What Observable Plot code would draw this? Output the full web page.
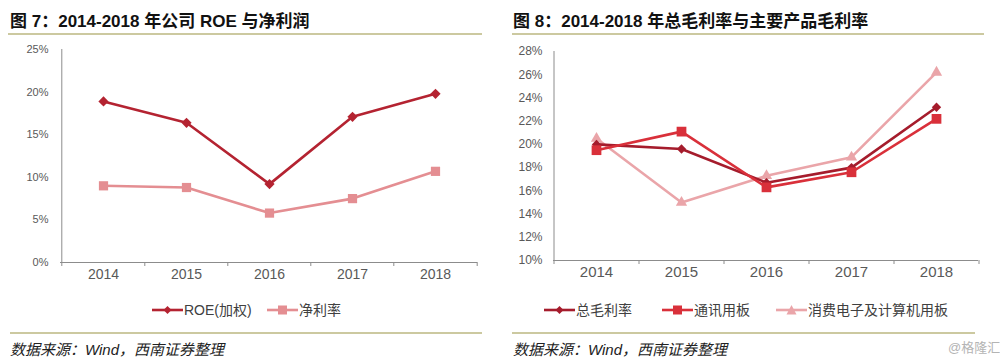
<!DOCTYPE html>
<html><head><meta charset="utf-8">
<script src="https://cdn.jsdelivr.net/npm/d3@7"></script>
<script src="https://cdn.jsdelivr.net/npm/@observablehq/plot@0.6"></script>
<style>
html,body{margin:0;padding:0;background:#fff;}
#root{position:relative;width:1000px;height:359px;overflow:hidden;font-family:"Liberation Sans","Noto Sans CJK SC",sans-serif;}
.title{position:absolute;top:12px;font-size:17px;font-weight:bold;color:#111;line-height:20px;white-space:nowrap;}
.sep{position:absolute;height:2px;background:#ccc9a0;}
.caption{position:absolute;top:341px;font-size:15px;font-style:italic;color:#222;line-height:18px;white-space:nowrap;}
.chart{position:absolute;top:40px;}
.li{position:absolute;top:300px;display:flex;align-items:center;font-size:14px;color:#404040;white-space:nowrap;line-height:20px;}
.li svg{display:block;margin-right:1px;}
.wm{position:absolute;left:948px;top:340px;font-size:13px;color:#b4b4b4;line-height:16px;white-space:nowrap;}
</style></head>
<body><div id="root"></div>
<script>
// ---- data ----
const years = ["2014", "2015", "2016", "2017", "2018"];
const roe = [18.9, 16.4, 9.2, 17.1, 19.8];
const netMargin = [9.0, 8.8, 5.8, 7.5, 10.7];
const grossTotal = [20.0, 19.6, 16.7, 18.0, 23.2];
const grossComm = [19.5, 21.1, 16.3, 17.6, 22.2];
const grossConsumer = [20.5, 15.0, 17.3, 18.9, 26.2];
const leftTicks = [0, 5, 10, 15, 20, 25];
const rightTicks = [10, 12, 14, 16, 18, 20, 22, 24, 26, 28];
const leftNames = ["ROE(加权)", "净利率"];
const rightNames = ["总毛利率", "通讯用板", "消费电子及计算机用板"];
const titles = ["图 7：2014-2018 年公司 ROE 与净利润", "图 8：2014-2018 年总毛利率与主要产品毛利率"];
const captionText = "数据来源：Wind，西南证券整理";

const root = document.getElementById("root");
const axisColor = "#8c8c8c";

function chart(cfg) {
  const {width, height, marginLeft, marginRight, marginTop, marginBottom, yTicks, series, xFont, yFont, yPad, xPad} = cfg;
  const step = (width - marginLeft - marginRight) / years.length;
  const y0 = yTicks[0];
  const marks = [
    Plot.ruleX([years[0]], {dx: -step / 2, stroke: axisColor, strokeWidth: 1}),
    Plot.ruleY([y0], {stroke: axisColor, strokeWidth: 1}),
    Plot.ruleX(years, {x: d => d, y1: y0, y2: y0, dx: -step / 2, insetBottom: -4, stroke: axisColor}),
    Plot.ruleX([years[years.length - 1]], {x: d => d, y1: y0, y2: y0, dx: step / 2, insetBottom: -4, stroke: axisColor}),
    Plot.ruleY(yTicks, {y: d => d, x1: years[0], x2: years[0], dx: -step / 2, insetLeft: -4, stroke: axisColor}),
    Plot.axisY({ticks: yTicks, tickSize: 0, tickPadding: yPad, tickFormat: d => d + "%", fontSize: yFont, label: null}),
    Plot.axisX({tickSize: 0, tickPadding: xPad, fontSize: xFont, label: null})
  ];
  for (const s of series) {
    const data = years.map((yr, i) => ({year: yr, value: s.values[i]}));
    marks.push(Plot.line(data, {x: "year", y: "value", stroke: s.color, strokeWidth: 2.6}));
    marks.push(Plot.dot(data, {x: "year", y: "value", symbol: s.symbol, r: s.r, fill: s.color}));
  }
  return Plot.plot({
    width, height, marginLeft, marginRight, marginTop, marginBottom,
    x: {type: "point", domain: years, padding: 0.5},
    y: {domain: [yTicks[0], yTicks[yTicks.length - 1]]},
    style: {background: "transparent", color: "#595959", fontFamily: "Liberation Sans, Noto Sans CJK SC, sans-serif", overflow: "visible"},
    marks
  });
}

function add(el, cls, left, extra) {
  el.className = cls;
  el.style.left = left + "px";
  if (extra) Object.assign(el.style, extra);
  root.appendChild(el);
  return el;
}
function div(cls, left, text, extra) {
  const d = document.createElement("div");
  if (text != null) d.textContent = text;
  return add(d, cls, left, extra);
}
function markerSvg(color, symbol) {
  const ns = "http://www.w3.org/2000/svg";
  const svg = document.createElementNS(ns, "svg");
  svg.setAttribute("width", 31); svg.setAttribute("height", 12);
  const line = document.createElementNS(ns, "line");
  line.setAttribute("x1", 0); line.setAttribute("x2", 31); line.setAttribute("y1", 6); line.setAttribute("y2", 6);
  line.setAttribute("stroke", color); line.setAttribute("stroke-width", 2.6);
  svg.appendChild(line);
  let m;
  if (symbol === "square") {
    m = document.createElementNS(ns, "rect");
    m.setAttribute("x", 11); m.setAttribute("y", 1.5); m.setAttribute("width", 9); m.setAttribute("height", 9);
  } else {
    m = document.createElementNS(ns, "polygon");
    m.setAttribute("points", symbol === "triangle" ? "15.5,1 20.5,10.5 10.5,10.5" : "15.5,2 19.5,6 15.5,10 11.5,6");
  }
  m.setAttribute("fill", color);
  svg.appendChild(m);
  return svg;
}
function legendItem(left, color, symbol, name) {
  const d = div("li", left, null);
  d.appendChild(markerSvg(color, symbol));
  const t = document.createElement("span"); t.textContent = name; d.appendChild(t);
}

// ---- left panel ----
div("title", 10, titles[0]);
div("sep", 8, null, {top: "33px", width: "474px"});
const leftSeries = [
  {values: netMargin, color: "#e48e92", symbol: "square", r: 5.2},
  {values: roe, color: "#b42331", symbol: "diamond2", r: 4.6}
];
const c1 = chart({width: 490, height: 250, marginLeft: 60, marginRight: 13, marginTop: 9, marginBottom: 28,
  yTicks: leftTicks, series: leftSeries, xFont: 14, yFont: 11, yPad: 12, xPad: 7});
c1.classList.add("chart"); c1.style.position = "absolute"; c1.style.left = "0px"; c1.style.top = "40px";
root.appendChild(c1);
legendItem(152, "#b42331", "diamond", leftNames[0]);
legendItem(267, "#e48e92", "square", leftNames[1]);
div("sep", 10, null, {top: "332px", width: "472px"});
div("caption", 10, captionText);

// ---- right panel ----
div("title", 513, titles[1]);
div("sep", 512, null, {top: "33px", width: "472px"});
const rightSeries = [
  {values: grossConsumer, color: "#eaa5a9", symbol: "triangle", r: 4.2},
  {values: grossTotal, color: "#a51c2c", symbol: "diamond2", r: 4.2},
  {values: grossComm, color: "#d9303a", symbol: "square", r: 5.5}
];
const c2 = chart({width: 500, height: 250, marginLeft: 53, marginRight: 22, marginTop: 11, marginBottom: 30,
  yTicks: rightTicks, series: rightSeries, xFont: 15, yFont: 12, yPad: 11, xPad: 6});
c2.style.position = "absolute"; c2.style.left = "500px"; c2.style.top = "40px";
root.appendChild(c2);
legendItem(544, "#a51c2c", "diamond", rightNames[0]);
legendItem(662, "#d9303a", "square", rightNames[1]);
legendItem(776, "#eaa5a9", "triangle", rightNames[2]);
div("sep", 512, null, {top: "332px", width: "463px"});
div("caption", 513, captionText);
div("wm", 948, "@格隆汇");
</script>
</body></html>
